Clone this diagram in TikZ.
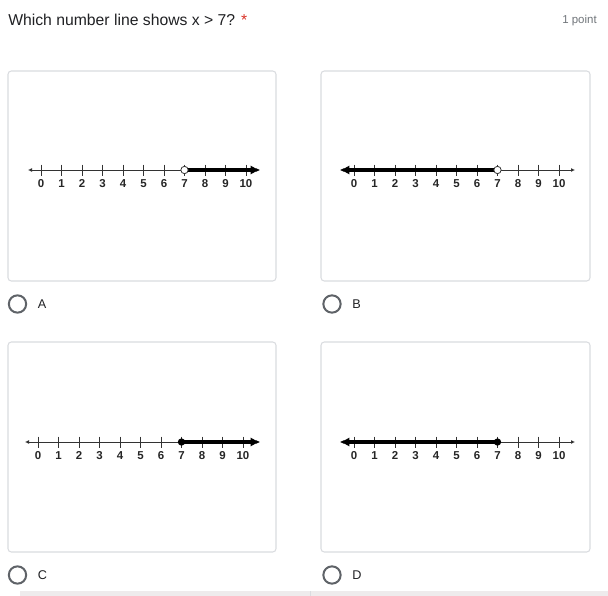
\documentclass[tikz,border=0pt]{standalone}
\usepackage{fontspec}
\setmainfont{Liberation Sans}
\definecolor{inkgray}{HTML}{202124}
\definecolor{softgray}{HTML}{70757A}
\definecolor{cardline}{HTML}{DADCE0}
\definecolor{radiogray}{HTML}{5F6368}
\definecolor{starred}{HTML}{D93025}
\definecolor{stripcol}{HTML}{EEEBEC}
\usetikzlibrary{arrows.meta,positioning}

% one number line, 0 at the origin of the scope
\newcommand{\numberaxis}[2]{%
    \coordinate (left) at (#1,0);
    \coordinate (right) at (#2,0);
    \coordinate (seven) at (7*20.5,0);
    \draw[axis] (left) -- (right);
    \foreach \k in {0,...,10}{
        \draw[tick] (\k*20.5,-5.5) -- (\k*20.5,5.5);
        \node[num] (n\k) at (\k*20.5,13.5) {\k};
    }
}

\begin{document}
\begin{tikzpicture}[x=0.75pt,y=-0.75pt,
    card/.style={draw=cardline, fill=white, rounded corners=2.5pt, line width=0.8pt},
    axis/.style={draw=black!80, line width=0.7pt, {Latex[length=3pt,width=3pt]}-{Latex[length=3pt,width=3pt]}},
    tick/.style={draw=black!80, line width=0.7pt},
    ray/.style={line width=3pt, -{Latex[length=7pt,width=7pt]}},
    num/.style={font=\fontsize{8.6}{10}\selectfont\bfseries, text=black!85, inner sep=0pt},
    opendot/.style={draw=black!80, fill=white, circle, line width=0.6pt, minimum size=5.5pt, inner sep=0pt},
    filldot/.style={fill=black, circle, minimum size=5.5pt, inner sep=0pt},
    radio/.style={draw=radiogray, circle, line width=1.5pt, minimum size=13pt, inner sep=0pt},
    choice/.style={font=\fontsize{9.5}{11}\selectfont, text=inkgray, anchor=west, inner sep=0pt}]
    \useasboundingbox (0,0) rectangle (608,596);
    \fill[white] (0,0) rectangle (608,596);

    % question line
    \node (question) [anchor=west, inner sep=0pt, text=inkgray, font=\fontsize{11.8}{14}\selectfont] at (8,20)
        {Which number line shows x > 7? \textcolor{starred}{*}};
    \node (points) [anchor=east, inner sep=0pt, text=softgray, font=\fontsize{8.6}{10}\selectfont] at (597,21) {1 point};

    % answer cards
    \draw[card] (8,71) rectangle (276,281);
    \draw[card] (321,71) rectangle (590,281);
    \draw[card] (8,342) rectangle (276,552);
    \draw[card] (321,342) rectangle (590,552);

    % A: open circle, ray to the right
    \begin{scope}[shift={(41,170)}, name prefix=a-]
        \numberaxis{-13}{219}
        \draw[ray] (seven) -- (right);
        \node[opendot] (dot) at (seven) {};
    \end{scope}

    % B: open circle, ray to the left
    \begin{scope}[shift={(354,170)}, name prefix=b-]
        \numberaxis{-14}{221}
        \draw[ray] (seven) -- (left);
        \node[opendot] (dot) at (seven) {};
    \end{scope}

    % C: closed circle, ray to the right
    \begin{scope}[shift={(38,442)}, name prefix=c-]
        \numberaxis{-13}{222}
        \draw[ray] (seven) -- (right);
        \node[filldot] (dot) at (seven) {};
    \end{scope}

    % D: closed circle, ray to the left
    \begin{scope}[shift={(354,442)}, name prefix=d-]
        \numberaxis{-14}{221}
        \draw[ray] (seven) -- (left);
        \node[filldot] (dot) at (seven) {};
    \end{scope}

    % radio buttons
    \node[radio] (ra) at (17.5,304) {};
    \node[choice] (la) [right=15pt of ra.center] {A};
    \node[radio] (rb) at (332,304) {};
    \node[choice] (lb) [right=15pt of rb.center] {B};
    \node[radio] (rc) at (17.5,575) {};
    \node[choice] (lc) [right=15pt of rc.center] {C};
    \node[radio] (rd) at (332,575) {};
    \node[choice] (ld) [right=15pt of rd.center] {D};

    % strip cut off at the bottom
    \fill[stripcol] (20,591) rectangle (608,596);
    \draw[cardline] (310,591) -- (310,596);
\end{tikzpicture}
\end{document}
